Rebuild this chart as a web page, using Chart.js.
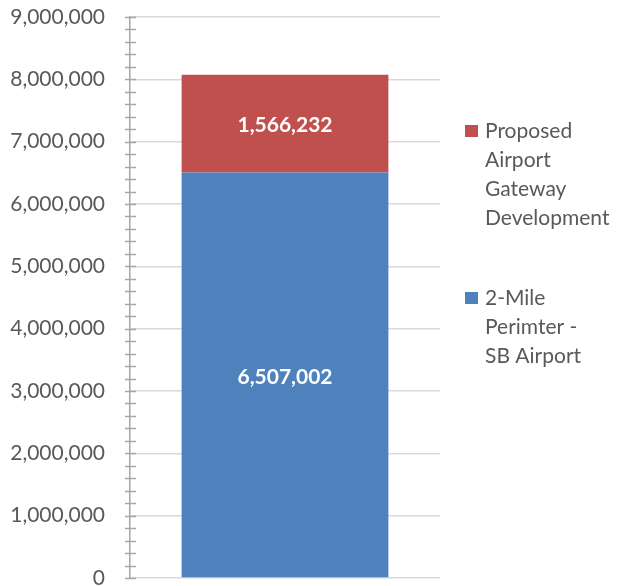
<!DOCTYPE html>
<html>
<head>
<meta charset="utf-8">
<script src="https://cdn.jsdelivr.net/npm/chart.js@4/dist/chart.umd.min.js"></script>
<style>
  html, body { margin: 0; padding: 0; background: #ffffff; }
  #wrap { width: 618px; height: 586px; position: relative; }
</style>
</head>
<body>
<div id="wrap"><canvas id="popChart"></canvas></div>
<script>
// Single stacked column: population counts by area
var categories = ['Total'];
var perimeterValues = [6507002];
var gatewayValues = [1566232];
var seriesNames = [
  ['2-Mile', 'Perimter -', 'SB Airport'],
  ['Proposed', 'Airport', 'Gateway', 'Development']
];
var yMin = 0;
var yMax = 9000000;
var majorStep = 1000000;
var minorStep = 200000;

var textColor = '#595959';
var fontFamily = 'Lato, "Open Sans", sans-serif';

function fmt(v) {
  return Math.round(v).toLocaleString('en-US');
}

/**
 * Tick marks crossing the y axis line, both major and minor
 */
var axisTicks = {
  id: 'axisTicks',
  afterDatasetsDraw: function (chart) {
    var scale = chart.scales.y;
    var x = chart.chartArea.left;
    var ctx = chart.ctx;
    ctx.save();
    ctx.strokeStyle = '#a6a6a6';
    ctx.lineWidth = 1.5;
    scale.ticks.forEach(function (t) {
      var y = Math.round(scale.getPixelForValue(t.value)) + 0.5;
      ctx.beginPath();
      ctx.moveTo(x - 5, y);
      ctx.lineTo(x + 6, y);
      ctx.stroke();
    });
    ctx.restore();
  }
};

/**
 * Value labels centered inside each bar segment
 */
var segmentLabels = {
  id: 'segmentLabels',
  afterDatasetsDraw: function (chart) {
    var ctx = chart.ctx;
    ctx.save();
    ctx.fillStyle = '#ffffff';
    ctx.font = 'bold 21px ' + fontFamily;
    ctx.textAlign = 'center';
    ctx.textBaseline = 'middle';
    chart.data.datasets.forEach(function (ds, i) {
      chart.getDatasetMeta(i).data.forEach(function (bar, j) {
        var mid = (bar.y + bar.base) / 2;
        ctx.fillText(fmt(ds.data[j]), bar.x, mid + 2);
      });
    });
    ctx.restore();
  }
};

/**
 * Legend on the right with wrapped entry names, top series first
 */
var sideLegend = {
  id: 'sideLegend',
  afterDraw: function (chart) {
    var ctx = chart.ctx;
    var boxX = 465;
    var textX = 485;
    var lineH = 29;
    var starts = [131, 298];
    var order = [1, 0];
    ctx.save();
    ctx.font = '21px ' + fontFamily;
    ctx.textBaseline = 'middle';
    ctx.textAlign = 'left';
    order.forEach(function (dsIndex, k) {
      var ds = chart.data.datasets[dsIndex];
      var y0 = starts[k];
      ctx.fillStyle = ds.backgroundColor;
      ctx.fillRect(boxX, y0 - 6, 13, 12);
      ctx.fillStyle = textColor;
      seriesNames[dsIndex].forEach(function (line, n) {
        ctx.fillText(line, textX, y0 + n * lineH);
      });
    });
    ctx.restore();
  }
};

var ctx = document.getElementById('popChart').getContext('2d');
var chart = new Chart(ctx, {
  type: 'bar',
  data: {
    labels: categories,
    datasets: [
      {
        label: seriesNames[0].join(' '),
        data: perimeterValues,
        backgroundColor: '#4f81bd',
        categoryPercentage: 1,
        barPercentage: 0.667
      },
      {
        label: seriesNames[1].join(' '),
        data: gatewayValues,
        backgroundColor: '#c0504d',
        categoryPercentage: 1,
        barPercentage: 0.667
      }
    ]
  },
  options: {
    responsive: true,
    maintainAspectRatio: false,
    animation: false,
    layout: {
      padding: { left: 0, right: 178, top: 0, bottom: 0 }
    },
    plugins: {
      legend: { display: false },
      tooltip: { enabled: false }
    },
    scales: {
      x: {
        stacked: true,
        display: false
      },
      y: {
        stacked: true,
        min: yMin,
        max: yMax,
        border: { display: true, color: '#a6a6a6', width: 1.5 },
        grid: {
          drawTicks: false,
          lineWidth: 1.5,
          color: function (c) {
            if (!c.tick) return 'rgba(0,0,0,0)';
            return Math.round(c.tick.value) % majorStep === 0 ? '#d9d9d9' : 'rgba(0,0,0,0)';
          }
        },
        ticks: {
          stepSize: minorStep,
          autoSkip: false,
          padding: 25,
          color: textColor,
          font: { family: fontFamily, size: 21, lineHeight: 1.0 },
          callback: function (value) {
            return Math.round(value) % majorStep === 0 ? fmt(value) : '';
          }
        },
        afterFit: function (scale) {
          // fixed axis band so the plot starts at x=130, top 17, bottom 578
          scale.width = 130;
          scale.paddingTop = 17;
          scale.paddingBottom = 8;
        }
      }
    }
  },
  plugins: [axisTicks, segmentLabels, sideLegend]
});
</script>
</body>
</html>
